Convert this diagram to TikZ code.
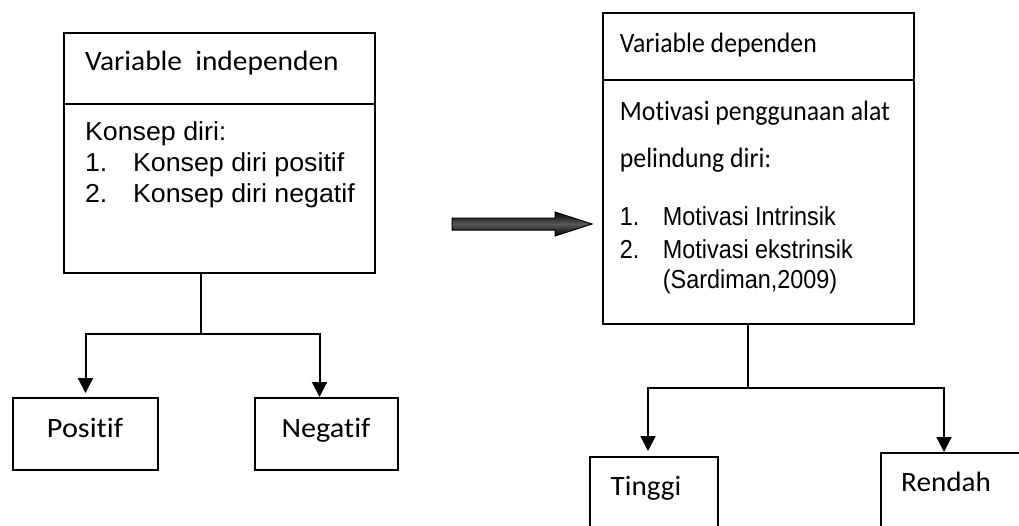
\documentclass[tikz,border=0pt]{standalone}
\usepackage{fontspec}
\setmainfont[Ligatures=NoCommon]{Carlito}
\newfontfamily\arialfont{Liberation Sans}
\usetikzlibrary{arrows.meta,positioning}

\begin{document}
\begin{tikzpicture}[x=1pt, y=-1pt, line width=2pt,
    box/.style={draw, rectangle, inner sep=0pt, anchor=north west},
    hdtext/.style={anchor=base west, inner sep=0pt, font=\fontsize{28}{34}\selectfont},
    lstext/.style={anchor=base west, inner sep=0pt, font=\arialfont\fontsize{26}{31}\selectfont},
    lbtext/.style={anchor=base, inner sep=0pt, font=\fontsize{28}{34}\selectfont},
    arr/.style={-{Triangle[width=15pt,length=15pt]}},
    bigarrow/.style={draw=black, line width=1pt, top color=black, bottom color=black, middle color=black!65}]

        \useasboundingbox (0,0) rectangle (1019,525);
        \clip (0,0) rectangle (1019,525);

        % Left box: variable independen
        \node[box, minimum width=311pt, minimum height=240pt] (indep) at (63,32) {};
        \draw (indep.north west) ++(0,72) coordinate (indepD) -- (indepD -| indep.east);
        \node[hdtext, xscale=1.05] (indepH) at (84,70) {Variable\ \ independen};
        \node[lstext, xscale=1.03] (indepK) at (84,140) {Konsep diri:};
        \node[lstext, xscale=1.03] (indepN1) at (84,171) {1.};
        \node[lstext, xscale=1.03] (indepP1) at (132,171) {Konsep diri positif};
        \node[lstext, xscale=1.03] (indepN2) at (84,202) {2.};
        \node[lstext, xscale=1.03] (indepP2) at (132,202) {Konsep diri negatif};

        % Positif and Negatif
        \node[box, minimum width=145pt, minimum height=72pt] (pos) at (12,397) {};
        \node[lbtext, xscale=1.08] (posL) at (85,437) {Positif};
        \node[box, minimum width=143pt, minimum height=72pt] (neg) at (254,397) {};
        \node[lbtext, xscale=1.08] (negL) at (326,437) {Negatif};

        % Branches on the left
        \coordinate (indepJ) at (201,334);
        \draw (indep.south -| indepJ) -- (indepJ);
        \draw[arr, shorten >=4pt] (indepJ) -| (pos.north);
        \draw[arr] (indepJ) -| ([xshift=-7pt]neg.north);

        % Big arrow in the middle
        \draw[bigarrow] (452,218) -- (555,218) -- (555,212) -- (592,224)
              -- (555,236) -- (555,230) -- (452,230) -- cycle;

        % Right box: variable dependen
        \node[box, minimum width=311pt, minimum height=311pt] (dep) at (602,12) {};
        \draw (dep.north west) ++(0,68) coordinate (depD) -- (depD -| dep.east);
        \node[hdtext, xscale=0.92] (depH) at (619,52) {Variable dependen};
        \node[hdtext, xscale=0.92] (depM1) at (619,120) {Motivasi penggunaan alat};
        \node[hdtext, xscale=0.92] (depM2) at (619,167) {pelindung diri:};
        \node[lstext, xscale=0.9] (depN1) at (619,225) {1.};
        \node[lstext, xscale=0.9] (depI1) at (662,225) {Motivasi Intrinsik};
        \node[lstext, xscale=0.9] (depN2) at (619,258) {2.};
        \node[lstext, xscale=0.9] (depI2) at (662,258) {Motivasi ekstrinsik};
        \node[lstext, xscale=0.9] (depS) at (662,288) {(Sardiman,2009)};

        % Tinggi and Rendah
        \node[box, minimum width=128pt, minimum height=100pt] (hi) at (589,456) {};
        \node[lbtext, xscale=1.04] (hiL) at (646,495) {Tinggi};
        \node[box, minimum width=150pt, minimum height=100pt] (lo) at (880,452) {};
        \node[lbtext, xscale=1.04] (loL) at (946,491) {Rendah};

        % Branches on the right
        \coordinate (depJ) at (748,388);
        \draw (dep.south -| depJ) -- (depJ);
        \draw[arr, shorten >=5pt] (depJ) -| ([xshift=-6pt]hi.north);
        \draw[arr] (depJ) -| ([xshift=-12pt]lo.north);

    \end{tikzpicture}
\end{document}
